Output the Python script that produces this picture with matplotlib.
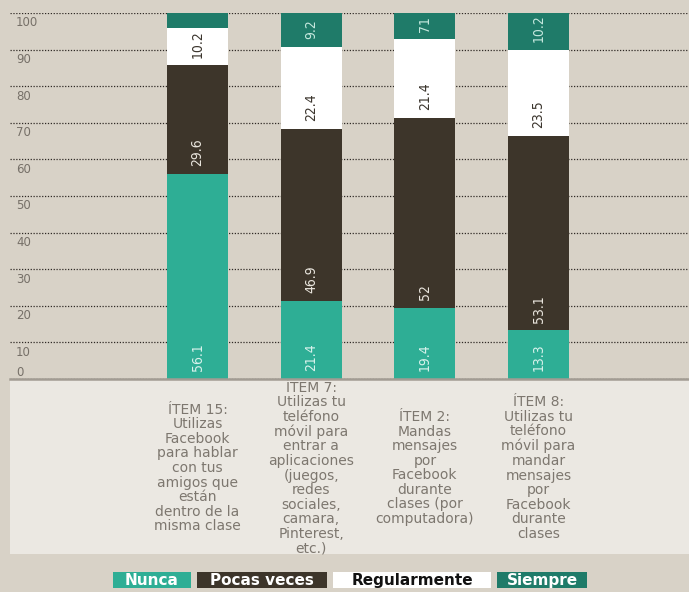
import matplotlib
matplotlib.use("Agg")
import matplotlib.pyplot as plt
from matplotlib.patches import Rectangle
import matplotlib.transforms as mtransforms
from matplotlib import font_manager

# ---------------- data ----------------
items = [
    "ÍTEM 15:\nUtilizas\nFacebook\npara hablar\ncon tus\namigos que\nestán\ndentro de la\nmisma clase",
    "ÍTEM 7:\nUtilizas tu\nteléfono\nmóvil para\nentrar a\naplicaciones\n(juegos,\nredes\nsociales,\ncamara,\nPinterest,\netc.)",
    "ÍTEM 2:\nMandas\nmensajes\npor\nFacebook\ndurante\nclases (por\ncomputadora)",
    "ÍTEM 8:\nUtilizas tu\nteléfono\nmóvil para\nmandar\nmensajes\npor\nFacebook\ndurante\nclases",
]
series_names = ["Nunca", "Pocas veces", "Regularmente", "Siempre"]
nunca = [56.1, 21.4, 19.4, 13.3]
pocas = [29.6, 46.9, 52.0, 53.1]
regular = [10.2, 22.4, 21.4, 23.5]
siempre = [4.1, 9.2, 7.1, 10.2]
nunca_lbl = ["56.1", "21.4", "19.4", "13.3"]
pocas_lbl = ["29.6", "46.9", "52", "53.1"]
regular_lbl = ["10.2", "22.4", "21.4", "23.5"]
siempre_lbl = ["", "9.2", "71", "10.2"]
yticks = [0, 10, 20, 30, 40, 50, 60, 70, 80, 90, 100]

# ---------------- fonts ----------------
_avail = {f.name for f in font_manager.fontManager.ttflist}
_narrow = [f for f in font_manager.fontManager.ttflist
           if "condensed" in str(f.stretch).lower() or "narrow" in f.name.lower()
           or "condensed" in f.name.lower()]
if "Liberation Sans Narrow" in _avail:
    VAL_FONT = dict(family="Liberation Sans Narrow")
elif _narrow:
    VAL_FONT = dict(family=_narrow[0].name, fontstretch="condensed")
else:
    VAL_FONT = dict(family="DejaVu Sans", fontstretch="condensed")

# ---------------- style ----------------
BG = "#d8d2c7"
PANEL = "#ebe8e2"
C_NUNCA = "#2eae95"
C_POCAS = "#3d352a"
C_REG = "#ffffff"
C_SIEM = "#1f7b69"
series_colors = [C_NUNCA, C_POCAS, C_REG, C_SIEM]
label_colors = ["#d9f2ec", "#ebe7df", "#3a342c", "#c5e8de"]
legend_text_colors = ["#ffffff", "#ffffff", "#111111", "#ffffff"]

W, H = 689, 592
fig = plt.figure(figsize=(W / 100, H / 100), dpi=100)
fig.patch.set_facecolor(BG)

# light panel behind category labels
fig.add_artist(Rectangle((10 / W, 38 / H), 1 - 10 / W, (554 - 380) / H,
                         transform=fig.transFigure, facecolor=PANEL,
                         edgecolor="none", zorder=0))

ax = fig.add_axes([10 / W, 1 - 379 / H, 1 - 10 / W, (379 - 13) / H])
ax.set_facecolor("none")
ax.set_ylim(0, 100)
ax.set_xlim(-1.65, 4.324)

x = list(range(len(items)))
width = 0.537
series = [nunca, pocas, regular, siempre]
labels = [nunca_lbl, pocas_lbl, regular_lbl, siempre_lbl]
bottoms = [0.0] * len(items)
for vals, lbls, col, lcol in zip(series, labels, series_colors, label_colors):
    ax.bar(x, vals, width=width, bottom=bottoms, color=col,
           edgecolor="none", zorder=3)
    for xi, b, lab in zip(x, bottoms, lbls):
        if lab:
            ax.annotate(lab, xy=(xi, b), xytext=(0, 5.5),
                        textcoords="offset points", rotation=90,
                        ha="center", va="bottom", color=lcol,
                        fontsize=10, zorder=4, **VAL_FONT)
    bottoms = [b + v for b, v in zip(bottoms, vals)]

# grid
ax.set_yticks(yticks)
ax.yaxis.grid(True, color="#2f2a25", linestyle=(0, (1, 1.3)), linewidth=0.9,
              zorder=1)
ax.tick_params(axis="y", length=0, labelleft=False)
ax.set_xticks([])
for s in ["top", "right", "left"]:
    ax.spines[s].set_visible(False)
ax.spines["bottom"].set_color("#a29c93")
ax.spines["bottom"].set_linewidth(1.8)
ax.spines["bottom"].set_zorder(5)

# y tick labels inside the axes
trans = mtransforms.blended_transform_factory(ax.transAxes, ax.transData)
for v in yticks:
    if v == 0:
        ax.text(6 / 679, v, str(v), transform=trans, ha="left",
                va="bottom", fontsize=8.5, color="#767068")
    else:
        ax.annotate(str(v), xy=(6 / 679, v), xycoords=trans,
                    xytext=(0, -2.5), textcoords="offset points",
                    ha="left", va="top", fontsize=8.5, color="#767068")

# category labels
tcat = mtransforms.blended_transform_factory(ax.transData, fig.transFigure)
for xi, txt in zip(x, items):
    ax.text(xi, 1 - 468 / H, txt, transform=tcat, ha="center", va="center",
            multialignment="center", fontsize=10, color="#7d776f",
            linespacing=1.05, clip_on=False)

# legend boxes
centers = [152, 262, 412, 542]
box_w = [78, 130, 158, 90]
for name, cx, bw, col, tc in zip(series_names, centers, box_w,
                                  series_colors, legend_text_colors):
    fig.add_artist(Rectangle(((cx - bw / 2) / W, (592 - 588) / H), bw / W,
                             16 / H, transform=fig.transFigure,
                             facecolor=col, edgecolor="none", zorder=5))
    fig.text(cx / W, 1 - 580.5 / H, name, ha="center", va="center",
             fontsize=11, fontweight="bold", color=tc, zorder=6)

fig.savefig("out.png", dpi=100, facecolor=fig.get_facecolor())
